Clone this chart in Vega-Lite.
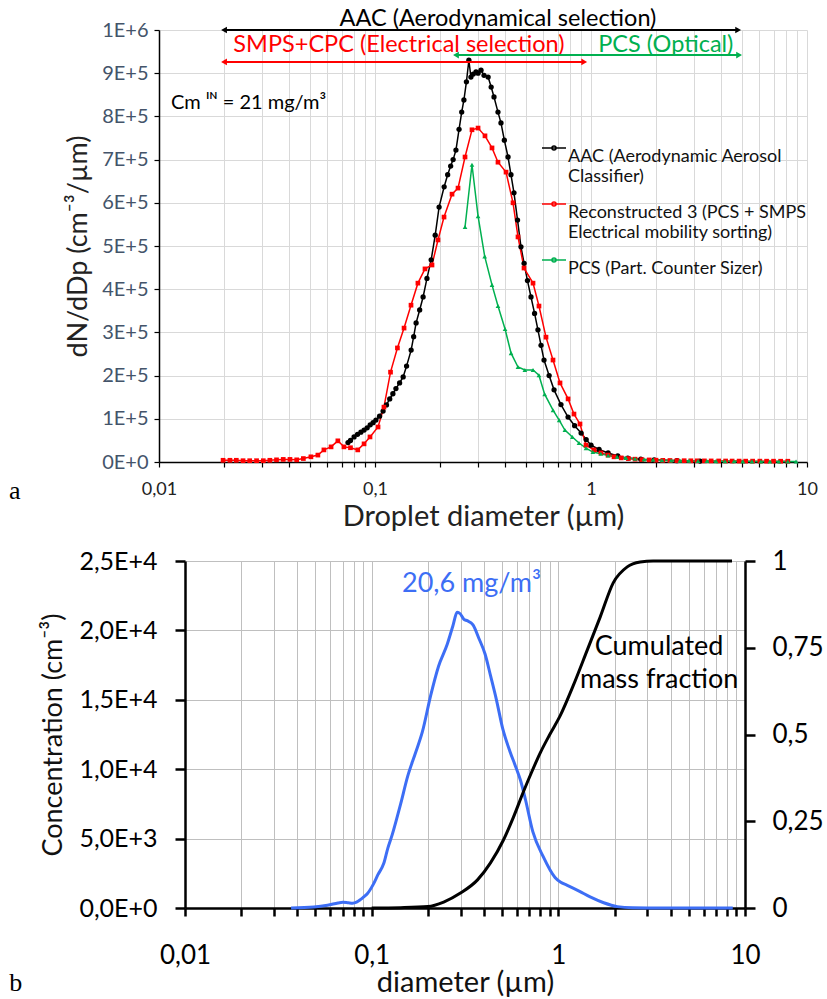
{
  "$schema": "https://vega.github.io/schema/vega-lite/v6.json",
  "background": "white",
  "padding": {"left": 8, "top": 6, "right": 0, "bottom": 0},
  "config": {
    "font": "Lato",
    "view": {"stroke": null},
    "axis": {"labelFont": "Lato", "titleFont": "Lato", "titleFontWeight": "normal"},
    "text": {"font": "Lato"}
  },
  "columns": 1,
  "spacing": 17,
  "datasets": {
    "series": [
      {"s":"AAC","d":0.075,"v":45000},{"s":"AAC","d":0.077,"v":50000},{"s":"AAC","d":0.080,"v":58000},{"s":"AAC","d":0.083,"v":64000},
      {"s":"AAC","d":0.086,"v":69000},{"s":"AAC","d":0.089,"v":74000},{"s":"AAC","d":0.092,"v":79000},{"s":"AAC","d":0.095,"v":86000},
      {"s":"AAC","d":0.098,"v":91000},{"s":"AAC","d":0.101,"v":97000},{"s":"AAC","d":0.105,"v":106000},{"s":"AAC","d":0.109,"v":118000},
      {"s":"AAC","d":0.113,"v":132000},{"s":"AAC","d":0.117,"v":146000},{"s":"AAC","d":0.121,"v":158000},{"s":"AAC","d":0.125,"v":170000},
      {"s":"AAC","d":0.130,"v":183000},{"s":"AAC","d":0.135,"v":197000},{"s":"AAC","d":0.140,"v":222000},{"s":"AAC","d":0.147,"v":259000},
      {"s":"AAC","d":0.151,"v":290000},{"s":"AAC","d":0.155,"v":322000},{"s":"AAC","d":0.161,"v":352000},{"s":"AAC","d":0.167,"v":382000},
      {"s":"AAC","d":0.174,"v":425000},{"s":"AAC","d":0.182,"v":468000},{"s":"AAC","d":0.190,"v":525000},{"s":"AAC","d":0.198,"v":590000},
      {"s":"AAC","d":0.209,"v":637000},{"s":"AAC","d":0.217,"v":665000},{"s":"AAC","d":0.224,"v":685000},{"s":"AAC","d":0.230,"v":700000},
      {"s":"AAC","d":0.237,"v":722000},{"s":"AAC","d":0.245,"v":770000},{"s":"AAC","d":0.252,"v":810000},{"s":"AAC","d":0.258,"v":838000},
      {"s":"AAC","d":0.265,"v":880000},{"s":"AAC","d":0.272,"v":930000},{"s":"AAC","d":0.278,"v":891000},{"s":"AAC","d":0.285,"v":898000},
      {"s":"AAC","d":0.2935,"v":903000},{"s":"AAC","d":0.300,"v":900000},{"s":"AAC","d":0.3096,"v":907000},{"s":"AAC","d":0.3197,"v":895000},
      {"s":"AAC","d":0.334,"v":891000},{"s":"AAC","d":0.345,"v":868000},{"s":"AAC","d":0.3556,"v":845000},{"s":"AAC","d":0.371,"v":810000},
      {"s":"AAC","d":0.383,"v":785000},{"s":"AAC","d":0.397,"v":745000},{"s":"AAC","d":0.413,"v":706000},{"s":"AAC","d":0.426,"v":665000},
      {"s":"AAC","d":0.440,"v":623000},{"s":"AAC","d":0.457,"v":560000},{"s":"AAC","d":0.474,"v":498000},{"s":"AAC","d":0.490,"v":460000},
      {"s":"AAC","d":0.508,"v":420000},{"s":"AAC","d":0.5275,"v":382000},{"s":"AAC","d":0.548,"v":344000},{"s":"AAC","d":0.568,"v":306000},
      {"s":"AAC","d":0.587,"v":270000},{"s":"AAC","d":0.606,"v":236000},{"s":"AAC","d":0.640,"v":200000},{"s":"AAC","d":0.6745,"v":167000},
      {"s":"AAC","d":0.726,"v":133000},{"s":"AAC","d":0.783,"v":104000},{"s":"AAC","d":0.840,"v":84000},{"s":"AAC","d":0.900,"v":67000},
      {"s":"AAC","d":0.950,"v":52000},{"s":"AAC","d":1.0,"v":39000},{"s":"AAC","d":1.09,"v":29000},{"s":"AAC","d":1.2,"v":21000},
      {"s":"AAC","d":1.33,"v":14000},{"s":"AAC","d":1.48,"v":9000},{"s":"AAC","d":1.7,"v":6500},{"s":"AAC","d":1.96,"v":5000},
      {"s":"AAC","d":2.5,"v":3000},{"s":"AAC","d":3.2,"v":2200},

      {"s":"Reconstructed 3","d":0.0198,"v":4000},{"s":"Reconstructed 3","d":0.0213,"v":4000},{"s":"Reconstructed 3","d":0.0228,"v":4000},
      {"s":"Reconstructed 3","d":0.0245,"v":3000},{"s":"Reconstructed 3","d":0.0263,"v":3000},{"s":"Reconstructed 3","d":0.0283,"v":3000},
      {"s":"Reconstructed 3","d":0.0304,"v":3000},{"s":"Reconstructed 3","d":0.0326,"v":4000},{"s":"Reconstructed 3","d":0.0350,"v":5000},
      {"s":"Reconstructed 3","d":0.0376,"v":6000},{"s":"Reconstructed 3","d":0.0404,"v":6000},{"s":"Reconstructed 3","d":0.0434,"v":5000},
      {"s":"Reconstructed 3","d":0.0466,"v":8000},{"s":"Reconstructed 3","d":0.0505,"v":12000},{"s":"Reconstructed 3","d":0.0544,"v":16000},
      {"s":"Reconstructed 3","d":0.058,"v":28000},{"s":"Reconstructed 3","d":0.0626,"v":35000},{"s":"Reconstructed 3","d":0.0673,"v":49000},
      {"s":"Reconstructed 3","d":0.0718,"v":35000},{"s":"Reconstructed 3","d":0.077,"v":33000},{"s":"Reconstructed 3","d":0.0832,"v":28000},
      {"s":"Reconstructed 3","d":0.089,"v":42000},{"s":"Reconstructed 3","d":0.0948,"v":58000},{"s":"Reconstructed 3","d":0.1033,"v":81000},
      {"s":"Reconstructed 3","d":0.110,"v":127000},{"s":"Reconstructed 3","d":0.118,"v":208000},{"s":"Reconstructed 3","d":0.127,"v":264000},
      {"s":"Reconstructed 3","d":0.1363,"v":310000},{"s":"Reconstructed 3","d":0.1468,"v":363000},{"s":"Reconstructed 3","d":0.158,"v":414000},
      {"s":"Reconstructed 3","d":0.1704,"v":447000},{"s":"Reconstructed 3","d":0.1836,"v":456000},{"s":"Reconstructed 3","d":0.1957,"v":514000},
      {"s":"Reconstructed 3","d":0.2087,"v":567000},{"s":"Reconstructed 3","d":0.2273,"v":620000},{"s":"Reconstructed 3","d":0.2423,"v":634000},
      {"s":"Reconstructed 3","d":0.2611,"v":706000},{"s":"Reconstructed 3","d":0.2812,"v":769000},{"s":"Reconstructed 3","d":0.300,"v":773000},
      {"s":"Reconstructed 3","d":0.323,"v":755000},{"s":"Reconstructed 3","d":0.3481,"v":727000},{"s":"Reconstructed 3","d":0.371,"v":694000},
      {"s":"Reconstructed 3","d":0.4042,"v":671000},{"s":"Reconstructed 3","d":0.4355,"v":600000},{"s":"Reconstructed 3","d":0.4592,"v":521000},
      {"s":"Reconstructed 3","d":0.4896,"v":449000},{"s":"Reconstructed 3","d":0.539,"v":414000},{"s":"Reconstructed 3","d":0.5743,"v":361000},
      {"s":"Reconstructed 3","d":0.619,"v":289000},{"s":"Reconstructed 3","d":0.667,"v":236000},{"s":"Reconstructed 3","d":0.7187,"v":183000},
      {"s":"Reconstructed 3","d":0.7833,"v":146000},{"s":"Reconstructed 3","d":0.834,"v":111000},{"s":"Reconstructed 3","d":0.8893,"v":88000},
      {"s":"Reconstructed 3","d":0.9481,"v":39000},{"s":"Reconstructed 3","d":1.0325,"v":28000},{"s":"Reconstructed 3","d":1.112,"v":21000},
      {"s":"Reconstructed 3","d":1.199,"v":16000},{"s":"Reconstructed 3","d":1.278,"v":12000},{"s":"Reconstructed 3","d":1.38,"v":9500},
      {"s":"Reconstructed 3","d":1.49,"v":8000},{"s":"Reconstructed 3","d":1.6,"v":6500},{"s":"Reconstructed 3","d":1.72,"v":5500},
      {"s":"Reconstructed 3","d":1.86,"v":4800},{"s":"Reconstructed 3","d":2.0,"v":4200},{"s":"Reconstructed 3","d":2.15,"v":3800},
      {"s":"Reconstructed 3","d":2.32,"v":3500},{"s":"Reconstructed 3","d":2.5,"v":3200},{"s":"Reconstructed 3","d":2.7,"v":3000},
      {"s":"Reconstructed 3","d":2.9,"v":2800},{"s":"Reconstructed 3","d":3.1,"v":2700},{"s":"Reconstructed 3","d":3.35,"v":2600},
      {"s":"Reconstructed 3","d":3.6,"v":2500},{"s":"Reconstructed 3","d":3.9,"v":2400},{"s":"Reconstructed 3","d":4.2,"v":2300},
      {"s":"Reconstructed 3","d":4.5,"v":2200},{"s":"Reconstructed 3","d":4.85,"v":2100},{"s":"Reconstructed 3","d":5.2,"v":2000},
      {"s":"Reconstructed 3","d":5.6,"v":2000},{"s":"Reconstructed 3","d":6.05,"v":2000},{"s":"Reconstructed 3","d":6.5,"v":1900},
      {"s":"Reconstructed 3","d":7.0,"v":1900},{"s":"Reconstructed 3","d":7.55,"v":1800},{"s":"Reconstructed 3","d":8.15,"v":1800},

      {"s":"PCS","d":0.2611,"v":544000},{"s":"PCS","d":0.2812,"v":688000},{"s":"PCS","d":0.300,"v":569000},{"s":"PCS","d":0.322,"v":476000},
      {"s":"PCS","d":0.348,"v":410000},{"s":"PCS","d":0.371,"v":361000},{"s":"PCS","d":0.400,"v":308000},{"s":"PCS","d":0.4265,"v":252000},
      {"s":"PCS","d":0.459,"v":220000},{"s":"PCS","d":0.494,"v":213000},{"s":"PCS","d":0.539,"v":213000},{"s":"PCS","d":0.574,"v":201000},
      {"s":"PCS","d":0.610,"v":157000},{"s":"PCS","d":0.667,"v":120000},{"s":"PCS","d":0.712,"v":97000},{"s":"PCS","d":0.757,"v":74000},
      {"s":"PCS","d":0.820,"v":58000},{"s":"PCS","d":0.880,"v":44000},{"s":"PCS","d":0.948,"v":32000},{"s":"PCS","d":1.02,"v":23000},
      {"s":"PCS","d":1.11,"v":19000},{"s":"PCS","d":1.2,"v":15000},{"s":"PCS","d":1.32,"v":12000},{"s":"PCS","d":1.45,"v":9500},
      {"s":"PCS","d":1.6,"v":7500},{"s":"PCS","d":1.76,"v":6000},{"s":"PCS","d":1.94,"v":5000},{"s":"PCS","d":2.13,"v":4200},
      {"s":"PCS","d":2.35,"v":3600},{"s":"PCS","d":2.58,"v":3200},{"s":"PCS","d":2.84,"v":2800},{"s":"PCS","d":3.13,"v":2500},
      {"s":"PCS","d":3.44,"v":2200},{"s":"PCS","d":3.79,"v":2000},{"s":"PCS","d":4.17,"v":1800},{"s":"PCS","d":4.59,"v":1600},
      {"s":"PCS","d":5.05,"v":1500},{"s":"PCS","d":5.56,"v":1400},{"s":"PCS","d":6.12,"v":1300},{"s":"PCS","d":6.73,"v":1200},
      {"s":"PCS","d":7.41,"v":1100},{"s":"PCS","d":8.15,"v":1000},{"s":"PCS","d":8.9,"v":1000}
    ],
    "arrows": [
      {"arrow":"AAC","from":0.02,"to":4.8,"level":1000000,"label":"AAC (Aerodynamical selection)","lx":0.371,"ly":1026000},
      {"arrow":"SMPS+CPC","from":0.02,"to":0.93,"level":926000,"label":"SMPS+CPC (Electrical selection)","lx":0.129,"ly":966000},
      {"arrow":"PCS","from":0.237,"to":4.85,"level":942000,"label":"PCS (Optical)","lx":2.22,"ly":966000}
    ],
    "blue": [
      {"d":0.037,"c":0},{"d":0.049,"c":70},{"d":0.058,"c":200},{"d":0.066,"c":360},{"d":0.070,"c":420},{"d":0.075,"c":380},
      {"d":0.079,"c":350},{"d":0.083,"c":420},{"d":0.087,"c":600},{"d":0.091,"c":820},{"d":0.095,"c":1050},{"d":0.102,"c":1700},
      {"d":0.108,"c":2400},{"d":0.116,"c":3200},{"d":0.122,"c":4300},{"d":0.129,"c":5300},{"d":0.136,"c":6400},{"d":0.143,"c":7500},
      {"d":0.156,"c":9500},{"d":0.172,"c":11200},{"d":0.187,"c":12700},{"d":0.207,"c":15300},{"d":0.228,"c":17400},{"d":0.254,"c":19000},
      {"d":0.272,"c":20300},{"d":0.287,"c":21300},{"d":0.298,"c":21200},{"d":0.312,"c":20800},{"d":0.325,"c":20700},{"d":0.349,"c":20400},
      {"d":0.376,"c":19400},{"d":0.405,"c":18300},{"d":0.434,"c":16700},{"d":0.466,"c":15000},{"d":0.504,"c":12900},{"d":0.55,"c":11300},
      {"d":0.59,"c":10200},{"d":0.627,"c":9200},{"d":0.667,"c":7800},{"d":0.73,"c":5500},{"d":0.83,"c":3700},{"d":0.96,"c":2200},
      {"d":1.03,"c":1850},{"d":1.11,"c":1650},{"d":1.3,"c":1200},{"d":1.48,"c":800},{"d":1.75,"c":380},{"d":2.07,"c":100},
      {"d":2.5,"c":10},{"d":3.0,"c":0},{"d":5.0,"c":0},{"d":8.6,"c":0}
    ],
    "cum": [
      {"d":0.1,"f":0},{"d":0.143,"f":0.001},{"d":0.2,"f":0.004},{"d":0.243,"f":0.017},{"d":0.299,"f":0.043},{"d":0.369,"f":0.081},
      {"d":0.433,"f":0.13},{"d":0.508,"f":0.196},{"d":0.575,"f":0.262},{"d":0.65,"f":0.335},{"d":0.72,"f":0.392},{"d":0.80,"f":0.447},
      {"d":0.90,"f":0.50},{"d":1.025,"f":0.555},{"d":1.2,"f":0.64},{"d":1.43,"f":0.744},{"d":1.677,"f":0.839},{"d":1.968,"f":0.937},
      {"d":2.339,"f":0.983},{"d":2.745,"f":0.997},{"d":3.22,"f":1.0},{"d":8.52,"f":1.0}
    ]
  },
  "concat": [
    {
      "width": 622,
      "height": 432,
      "layer": [
        {
          "data": {"name": "series"},
          "mark": {"type": "line", "strokeWidth": 1.5},
          "encoding": {
            "x": {"field": "d", "type": "quantitative", "scale": {"type": "log", "domain": [0.01, 10], "range": [-26, 622]},
              "axis": {"title": "Droplet diameter (µm)", "values": [0.01,0.02,0.03,0.04,0.05,0.06,0.07,0.08,0.09,0.1,0.2,0.3,0.4,0.5,0.6,0.7,0.8,0.9,1,2,3,4,5,6,7,8,9,10],
                "labelExpr": "datum.value == 0.01 ? '0,01' : datum.value == 0.1 ? '0,1' : datum.value == 1 ? '1' : datum.value == 10 ? '10' : ''",
                "grid": true, "gridColor": "#d9d9d9", "gridWidth": 1, "domainColor": "#000000", "domainWidth": 1.5,
                "tickColor": "#000000", "tickSize": 5, "tickWidth": 1.2, "labelFontSize": 18, "labelColor": "#222222",
                "labelPadding": 13, "labelFlush": false, "labelOverlap": false, "titleFontSize": 29, "titleColor": "#222222", "titlePadding": 4}},
            "y": {"field": "v", "type": "quantitative", "scale": {"domain": [0, 1000000], "nice": false},
              "axis": {"title": "dN/dDp (cm⁻³/µm)", "offset": 26, "values": [0,100000,200000,300000,400000,500000,600000,700000,800000,900000,1000000],
                "labelExpr": "upper(format(datum.value, '.0e'))",
                "grid": true, "gridColor": "#d9d9d9", "gridWidth": 1, "domainColor": "#000000", "domainWidth": 1.5,
                "tickColor": "#000000", "tickSize": 5, "tickWidth": 1.2, "labelFontSize": 20, "labelColor": "#44546a",
                "labelPadding": 6, "titleFontSize": 27, "titleColor": "#222222", "titlePadding": 9}},
            "color": {"field": "s", "type": "nominal", "scale": {"domain": ["AAC","Reconstructed 3","PCS"], "range": ["#000000","#ff0000","#00b050"]},
              "legend": {"orient": "none", "legendX": 356, "legendY": 105, "title": null, "padding": 0, "rowPadding": 5, "labelOffset": 1,
                "labelFontSize": 18, "labelFont": "Lato", "labelColor": "#111111", "labelLimit": 400, "labelBaseline": "top",
                "symbolType": "M-1,0H1M-0.17,0A0.17,0.17,0,1,1,0.17,0A0.17,0.17,0,1,1,-0.17,0Z",
                "symbolSize": 576, "symbolStrokeWidth": 1.5, "symbolOpacity": 1,
                "labelExpr": "datum.value == 'AAC' ? ['AAC (Aerodynamic Aerosol', 'Classifier)'] : datum.value == 'Reconstructed 3' ? ['Reconstructed 3 (PCS + SMPS', 'Electrical mobility sorting)'] : 'PCS (Part. Counter Sizer)'"}}
          }
        },
        {
          "data": {"name": "series"},
          "transform": [{"filter": "datum.s == 'AAC'"}],
          "mark": {"type": "point", "shape": "circle", "filled": true, "opacity": 1, "size": 28, "color": "#000000"},
          "encoding": {
            "x": {"field": "d", "type": "quantitative", "scale": {"type": "log", "domain": [0.01, 10], "range": [-26, 622]}},
            "y": {"field": "v", "type": "quantitative", "scale": {"domain": [0, 1000000], "nice": false}}
          }
        },
        {
          "data": {"name": "series"},
          "transform": [{"filter": "datum.s == 'Reconstructed 3'"}],
          "mark": {"type": "point", "shape": "square", "filled": true, "opacity": 1, "size": 22, "color": "#ff0000"},
          "encoding": {
            "x": {"field": "d", "type": "quantitative", "scale": {"type": "log", "domain": [0.01, 10], "range": [-26, 622]}},
            "y": {"field": "v", "type": "quantitative", "scale": {"domain": [0, 1000000], "nice": false}}
          }
        },
        {
          "data": {"name": "series"},
          "transform": [{"filter": "datum.s == 'PCS'"}],
          "mark": {"type": "point", "shape": "triangle-up", "filled": true, "opacity": 1, "size": 22, "color": "#00b050"},
          "encoding": {
            "x": {"field": "d", "type": "quantitative", "scale": {"type": "log", "domain": [0.01, 10], "range": [-26, 622]}},
            "y": {"field": "v", "type": "quantitative", "scale": {"domain": [0, 1000000], "nice": false}}
          }
        },
        {
          "data": {"name": "arrows"},
          "transform": [{"filter": "datum.arrow == 'AAC'"}],
          "layer": [
            {"mark": {"type": "rule", "strokeWidth": 2, "color": "#000000"},
             "encoding": {"x": {"field": "from", "type": "quantitative", "scale": {"type": "log", "domain": [0.01, 10], "range": [-26, 622]}}, "x2": {"field": "to"},
               "y": {"field": "level", "type": "quantitative", "scale": {"domain": [0, 1000000], "nice": false}}}},
            {"mark": {"type": "point", "shape": "triangle-left", "filled": true, "opacity": 1, "size": 45, "color": "#000000"},
             "encoding": {"x": {"field": "from", "type": "quantitative", "scale": {"type": "log", "domain": [0.01, 10], "range": [-26, 622]}},
               "y": {"field": "level", "type": "quantitative", "scale": {"domain": [0, 1000000], "nice": false}}}},
            {"mark": {"type": "point", "shape": "triangle-right", "filled": true, "opacity": 1, "size": 45, "color": "#000000"},
             "encoding": {"x": {"field": "to", "type": "quantitative", "scale": {"type": "log", "domain": [0.01, 10], "range": [-26, 622]}},
               "y": {"field": "level", "type": "quantitative", "scale": {"domain": [0, 1000000], "nice": false}}}},
            {"mark": {"type": "text", "fontSize": 23.5, "align": "center", "baseline": "middle", "color": "#000000"},
             "encoding": {"x": {"field": "lx", "type": "quantitative", "scale": {"type": "log", "domain": [0.01, 10], "range": [-26, 622]}},
               "y": {"field": "ly", "type": "quantitative", "scale": {"domain": [0, 1000000], "nice": false}}, "text": {"field": "label", "type": "nominal"}}}
          ]
        },
        {
          "data": {"name": "arrows"},
          "transform": [{"filter": "datum.arrow == 'SMPS+CPC'"}],
          "layer": [
            {"mark": {"type": "rule", "strokeWidth": 2, "color": "#ff0000"},
             "encoding": {"x": {"field": "from", "type": "quantitative", "scale": {"type": "log", "domain": [0.01, 10], "range": [-26, 622]}}, "x2": {"field": "to"},
               "y": {"field": "level", "type": "quantitative", "scale": {"domain": [0, 1000000], "nice": false}}}},
            {"mark": {"type": "point", "shape": "triangle-left", "filled": true, "opacity": 1, "size": 45, "color": "#ff0000"},
             "encoding": {"x": {"field": "from", "type": "quantitative", "scale": {"type": "log", "domain": [0.01, 10], "range": [-26, 622]}},
               "y": {"field": "level", "type": "quantitative", "scale": {"domain": [0, 1000000], "nice": false}}}},
            {"mark": {"type": "point", "shape": "triangle-right", "filled": true, "opacity": 1, "size": 45, "color": "#ff0000"},
             "encoding": {"x": {"field": "to", "type": "quantitative", "scale": {"type": "log", "domain": [0.01, 10], "range": [-26, 622]}},
               "y": {"field": "level", "type": "quantitative", "scale": {"domain": [0, 1000000], "nice": false}}}},
            {"mark": {"type": "text", "fontSize": 23.5, "align": "center", "baseline": "middle", "color": "#ff0000"},
             "encoding": {"x": {"field": "lx", "type": "quantitative", "scale": {"type": "log", "domain": [0.01, 10], "range": [-26, 622]}},
               "y": {"field": "ly", "type": "quantitative", "scale": {"domain": [0, 1000000], "nice": false}}, "text": {"field": "label", "type": "nominal"}}}
          ]
        },
        {
          "data": {"name": "arrows"},
          "transform": [{"filter": "datum.arrow == 'PCS'"}],
          "layer": [
            {"mark": {"type": "rule", "strokeWidth": 2, "color": "#00b050"},
             "encoding": {"x": {"field": "from", "type": "quantitative", "scale": {"type": "log", "domain": [0.01, 10], "range": [-26, 622]}}, "x2": {"field": "to"},
               "y": {"field": "level", "type": "quantitative", "scale": {"domain": [0, 1000000], "nice": false}}}},
            {"mark": {"type": "point", "shape": "triangle-left", "filled": true, "opacity": 1, "size": 45, "color": "#00b050"},
             "encoding": {"x": {"field": "from", "type": "quantitative", "scale": {"type": "log", "domain": [0.01, 10], "range": [-26, 622]}},
               "y": {"field": "level", "type": "quantitative", "scale": {"domain": [0, 1000000], "nice": false}}}},
            {"mark": {"type": "point", "shape": "triangle-right", "filled": true, "opacity": 1, "size": 45, "color": "#00b050"},
             "encoding": {"x": {"field": "to", "type": "quantitative", "scale": {"type": "log", "domain": [0.01, 10], "range": [-26, 622]}},
               "y": {"field": "level", "type": "quantitative", "scale": {"domain": [0, 1000000], "nice": false}}}},
            {"mark": {"type": "text", "fontSize": 23.5, "align": "center", "baseline": "middle", "color": "#00b050"},
             "encoding": {"x": {"field": "lx", "type": "quantitative", "scale": {"type": "log", "domain": [0.01, 10], "range": [-26, 622]}},
               "y": {"field": "ly", "type": "quantitative", "scale": {"domain": [0, 1000000], "nice": false}}, "text": {"field": "label", "type": "nominal"}}}
          ]
        },
        {
          "data": {"values": [{"t": "Cm ᴵᴺ = 21 mg/m³", "d": 0.01137, "v": 831000}]},
          "mark": {"type": "text", "fontSize": 20, "align": "left", "baseline": "middle", "color": "#000000"},
          "encoding": {
            "x": {"field": "d", "type": "quantitative", "scale": {"type": "log", "domain": [0.01, 10], "range": [-26, 622]}},
            "y": {"field": "v", "type": "quantitative", "scale": {"domain": [0, 1000000], "nice": false}},
            "text": {"field": "t", "type": "nominal"}
          }
        },
        {
          "data": {"values": [{"t": "a", "d": 0.00202, "v": -67000}]},
          "mark": {"type": "text", "fontSize": 26, "font": "Liberation Serif", "align": "left", "baseline": "middle", "color": "#000000"},
          "encoding": {
            "x": {"field": "d", "type": "quantitative", "scale": {"type": "log", "domain": [0.01, 10], "range": [-26, 622]}},
            "y": {"field": "v", "type": "quantitative", "scale": {"domain": [0, 1000000], "nice": false}},
            "text": {"field": "t", "type": "nominal"}
          }
        }
      ]
    },
    {
      "width": 560,
      "height": 347,
      "layer": [
        {
          "layer": [
            {
              "data": {"name": "blue"},
              "mark": {"type": "line", "interpolate": "monotone", "color": "#3d6ef5", "strokeWidth": 3},
              "encoding": {
                "x": {"field": "d", "type": "quantitative", "scale": {"type": "log", "domain": [0.01, 10]},
                  "axis": {"title": "diameter (µm)", "values": [0.01,0.02,0.03,0.04,0.05,0.06,0.07,0.08,0.09,0.1,0.2,0.3,0.4,0.5,0.6,0.7,0.8,0.9,1,2,3,4,5,6,7,8,9,10],
                    "labelExpr": "datum.value == 0.01 ? '0,01' : datum.value == 0.1 ? '0,1' : datum.value == 1 ? '1' : datum.value == 10 ? '10' : ''",
                    "grid": true, "gridColor": "#bfbfbf", "gridWidth": 1, "domainColor": "#000000", "domainWidth": 2.5,
                    "tickColor": "#000000", "tickSize": 8, "tickWidth": 2.5, "labelFontSize": 26, "labelColor": "#000000",
                    "labelPadding": 26, "labelFlush": false, "labelOverlap": false, "titleFontSize": 29, "titleColor": "#111111", "titlePadding": 0}},
                "y": {"field": "c", "type": "quantitative", "scale": {"domain": [0, 25000], "nice": false},
                  "axis": {"title": "Concentration (cm⁻³)", "values": [0,5000,10000,15000,20000,25000],
                    "labelExpr": "upper(replace(format(datum.value, '.1e'), '.', ','))",
                    "grid": true, "gridColor": "#bfbfbf", "gridWidth": 1, "domainColor": "#000000", "domainWidth": 2.5,
                    "tickColor": "#000000", "tickSize": 10, "tickWidth": 2.5, "labelFontSize": 25, "labelColor": "#000000",
                    "labelPadding": 18, "titleFontSize": 27, "titleColor": "#111111", "titlePadding": 11}}
              }
            },
            {
              "data": {"values": [{"t": "20,6 mg/m³", "d": 0.3427, "c": 23343}]},
              "mark": {"type": "text", "fontSize": 27, "align": "center", "baseline": "middle", "color": "#3d6ef5"},
              "encoding": {
                "x": {"field": "d", "type": "quantitative", "scale": {"type": "log", "domain": [0.01, 10]}},
                "y": {"field": "c", "type": "quantitative", "scale": {"domain": [0, 25000], "nice": false}},
                "text": {"field": "t", "type": "nominal"}
              }
            },
            {
              "data": {"values": [{"t": "b", "d": 0.001145, "c": -5403}]},
              "mark": {"type": "text", "fontSize": 26, "font": "Liberation Serif", "align": "left", "baseline": "middle", "color": "#000000"},
              "encoding": {
                "x": {"field": "d", "type": "quantitative", "scale": {"type": "log", "domain": [0.01, 10]}},
                "y": {"field": "c", "type": "quantitative", "scale": {"domain": [0, 25000], "nice": false}},
                "text": {"field": "t", "type": "nominal"}
              }
            }
          ]
        },
        {
          "layer": [
            {
              "data": {"name": "cum"},
              "mark": {"type": "line", "interpolate": "monotone", "color": "#000000", "strokeWidth": 3},
              "encoding": {
                "x": {"field": "d", "type": "quantitative", "scale": {"type": "log", "domain": [0.01, 10]}},
                "y": {"field": "f", "type": "quantitative", "scale": {"domain": [0, 1], "nice": false},
                  "axis": {"orient": "right", "title": null, "values": [0, 0.25, 0.5, 0.75, 1],
                    "labelExpr": "replace(toString(datum.value), '.', ',')",
                    "grid": false, "domainColor": "#000000", "domainWidth": 2.5,
                    "tickColor": "#000000", "tickSize": 10, "tickWidth": 2.5, "labelFontSize": 26, "labelColor": "#000000",
                    "labelPadding": 17}}
              }
            },
            {
              "data": {"values": [{"t": "Cumulated\nmass fraction", "d": 3.467, "f": 0.752}]},
              "mark": {"type": "text", "fontSize": 27, "align": "center", "baseline": "middle", "lineBreak": "\n", "lineHeight": 33, "color": "#000000"},
              "encoding": {
                "x": {"field": "d", "type": "quantitative", "scale": {"type": "log", "domain": [0.01, 10]}},
                "y": {"field": "f", "type": "quantitative", "scale": {"domain": [0, 1], "nice": false}},
                "text": {"field": "t", "type": "nominal"}
              }
            }
          ]
        }
      ],
      "resolve": {"scale": {"y": "independent"}}
    }
  ]
}
